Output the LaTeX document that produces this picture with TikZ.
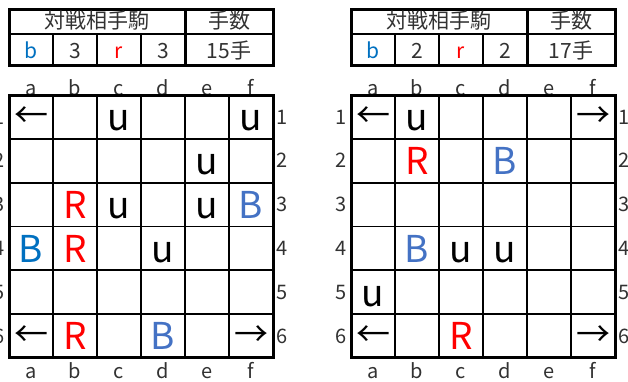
\documentclass[tikz,border=0pt]{standalone}
\usepackage{fontspec}
\setmainfont{Noto Sans CJK JP}
\usetikzlibrary{positioning}
\definecolor{bpiece}{RGB}{68,114,196}
\definecolor{bpiecedark}{RGB}{0,112,192}
\definecolor{rpiece}{RGB}{255,0,0}
\definecolor{labelgray}{RGB}{50,50,50}

\begin{document}
\begin{tikzpicture}[
    x=1pt, y=-1pt,
    thickline/.style={line width=3pt},
    thinline/.style={line width=1.8pt},
    lbl/.style={font=\fontsize{20}{20}\selectfont, text=labelgray, inner sep=0pt},
    hdr/.style={font=\fontsize{21}{21}\selectfont, text=labelgray, anchor=base, inner sep=0pt},
    piece/.style={font=\fontsize{37}{37}\selectfont, anchor=base, inner sep=0pt},
    arrowpiece/.style={font=\fontsize{34}{34}\selectfont, inner sep=0pt}
]
\useasboundingbox (0,0) rectangle (628,381);

% Boards and score tables (L = left, R = right)
\foreach \bx/\bn in {9/L, 351/R} {
    % cell centres
    \foreach \col [count=\i] in {a,b,c,d,e,f} {
        \foreach \r in {1,...,6} {
            \coordinate (\bn-\col\r) at (\bx+44*\i-22, 95+43.8*\r-21.9);
        }
        \node[lbl, anchor=base] (\bn-top-\col) at (\bx+44*\i-22, 95.5) {\col};
        \node[lbl, anchor=base] (\bn-bot-\col) at (\bx+44*\i-22, 378) {\col};
    }
    \foreach \r in {1,...,6} {
        \node[lbl] (\bn-left-\r) at (\bx-10, 95+43.8*\r-21.9) {\r};
        \node[lbl] (\bn-right-\r) at (\bx+273, 95+43.8*\r-21.9) {\r};
    }
    % grid
    \foreach \i in {1,...,5} {
        \draw[thinline] (\bx+44*\i, 95) -- (\bx+44*\i, 357.8);
        \draw[thinline] (\bx, 95+43.8*\i) -- (\bx+264, 95+43.8*\i);
    }
    \draw[thickline] (\bx, 95) rectangle (\bx+264, 357.8);
    % score table
    \draw[thinline] (\bx, 34) -- (\bx+176, 34) -- (\bx+264, 34);
    \foreach \i in {1,2,3} {
        \draw[thinline] (\bx+44*\i, 34) -- (\bx+44*\i, 65.5);
    }
    \draw[thickline] (\bx+176, 9) -- (\bx+176, 65.5);
    \draw[thickline] (\bx, 9) rectangle (\bx+264, 65.5);
    \node[hdr] (\bn-opp) at (\bx+88, 28.5) {対戦相手駒};
    \node[hdr] (\bn-moves) at (\bx+220, 28.5) {手数};
}

% Left score row
\node[hdr, text=bpiecedark] (L-bcount-lbl) at (31, 58) {b};
\node[hdr] (L-bcount) at (75, 58) {3};
\node[hdr, text=rpiece] (L-rcount-lbl) at (119, 58) {r};
\node[hdr] (L-rcount) at (163, 58) {3};
\node[hdr] (L-turns) at (229, 58) {15手};

% Right score row
\node[hdr, text=bpiecedark] (R-bcount-lbl) at (373, 58) {b};
\node[hdr] (R-bcount) at (417, 58) {2};
\node[hdr, text=rpiece] (R-rcount-lbl) at (461, 58) {r};
\node[hdr] (R-rcount) at (505, 58) {2};
\node[hdr] (R-turns) at (571, 58) {17手};

% Left board pieces
\node[arrowpiece] (pL-a1) at (L-a1) {←};
\node[piece] (pL-c1) at ([yshift=-14pt]L-c1) {u};
\node[piece] (pL-f1) at ([yshift=-14pt]L-f1) {u};
\node[piece] (pL-e2) at ([yshift=-14pt]L-e2) {u};
\node[piece, text=rpiece] (pL-b3) at ([yshift=-14pt]L-b3) {R};
\node[piece] (pL-c3) at ([yshift=-14pt]L-c3) {u};
\node[piece] (pL-e3) at ([yshift=-14pt]L-e3) {u};
\node[piece, text=bpiece] (pL-f3) at ([yshift=-14pt]L-f3) {B};
\node[piece, text=bpiecedark] (pL-a4) at ([yshift=-14pt]L-a4) {B};
\node[piece, text=rpiece] (pL-b4) at ([yshift=-14pt]L-b4) {R};
\node[piece] (pL-d4) at ([yshift=-14pt]L-d4) {u};
\node[arrowpiece] (pL-a6) at (L-a6) {←};
\node[piece, text=rpiece] (pL-b6) at ([yshift=-14pt]L-b6) {R};
\node[piece, text=bpiece] (pL-d6) at ([yshift=-14pt]L-d6) {B};
\node[arrowpiece] (pL-f6) at (L-f6) {→};

% Right board pieces
\node[arrowpiece] (pR-a1) at (R-a1) {←};
\node[piece] (pR-b1) at ([yshift=-14pt]R-b1) {u};
\node[arrowpiece] (pR-f1) at (R-f1) {→};
\node[piece, text=rpiece] (pR-b2) at ([yshift=-14pt]R-b2) {R};
\node[piece, text=bpiece] (pR-d2) at ([yshift=-14pt]R-d2) {B};
\node[piece, text=bpiece] (pR-b4) at ([yshift=-14pt]R-b4) {B};
\node[piece] (pR-c4) at ([yshift=-14pt]R-c4) {u};
\node[piece] (pR-d4) at ([yshift=-14pt]R-d4) {u};
\node[piece] (pR-a5) at ([yshift=-14pt]R-a5) {u};
\node[arrowpiece] (pR-a6) at (R-a6) {←};
\node[piece, text=rpiece] (pR-c6) at ([yshift=-14pt]R-c6) {R};
\node[arrowpiece] (pR-f6) at (R-f6) {→};

\end{tikzpicture}
\end{document}
